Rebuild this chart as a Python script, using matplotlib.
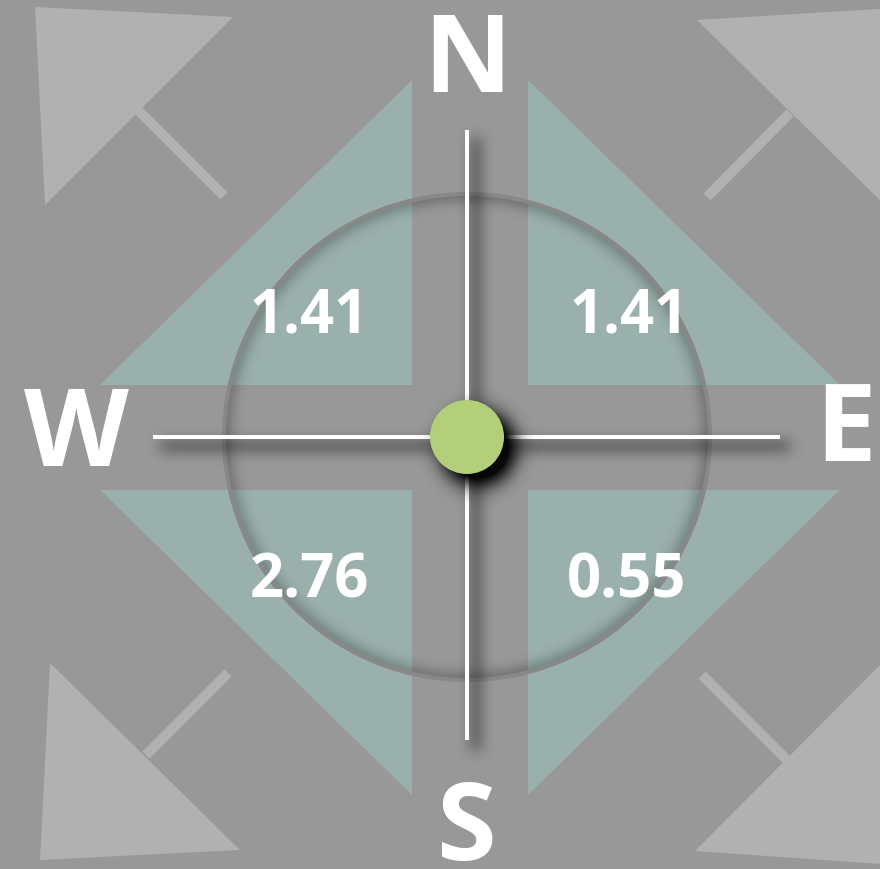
import numpy as np
import matplotlib
matplotlib.use("Agg")
import matplotlib.pyplot as plt
from matplotlib.patches import Polygon, Circle

# data
quadrants = ["NW", "NE", "SW", "SE"]
quadrant_values = [1.41, 1.41, 2.76, 0.55]
directions = ["N", "E", "S", "W"]

W, H = 880, 869
cx, cy = 467, 437
bg = "#989898"
arrow_col = "#b0b1b0"
teal = "#9ab0ac"
green = "#b3cf7a"

fig = plt.figure(figsize=(W / 100, H / 100), dpi=100, facecolor=bg)
ax = fig.add_axes([0, 0, 1, 1])
ax.set_xlim(0, W)
ax.set_ylim(H, 0)
ax.set_facecolor(bg)
ax.axis("off")


def px(v):
    # pixels to points
    return v * 72 / 100


def blur(a, s):
    r = int(3 * s)
    k = np.exp(-np.arange(-r, r + 1) ** 2 / (2 * s * s))
    k /= k.sum()
    a = np.apply_along_axis(lambda v: np.convolve(v, k, mode="same"), 1, a)
    a = np.apply_along_axis(lambda v: np.convolve(v, k, mode="same"), 0, a)
    return a


def shadow(alpha, z):
    img = np.zeros((H, W, 4))
    img[..., 3] = np.clip(alpha, 0, 1)
    ax.imshow(img, extent=(0, W, H, 0), zorder=z, interpolation="bilinear")


yy, xx = np.mgrid[0:H, 0:W] + 0.5

# corner arrows
arrows = [
    ([(35, 7), (233, 17), (45, 205)], (138, 110), (224, 196)),
    ([(697, 20), (895, 8), (895, 215)], (790, 113), (707, 197)),
    ([(50, 663), (40, 860), (240, 850)], (146, 755), (228, 673)),
    ([(695, 851), (895, 650), (895, 865)], (790, 763), (702, 675)),
]
for tri, p0, p1 in arrows:
    ax.add_patch(Polygon(tri, closed=True, fc=arrow_col, ec="none", zorder=1))
    ax.plot([p0[0], p1[0]], [p0[1], p1[1]], color=arrow_col, lw=px(10),
            solid_capstyle="butt", zorder=1)

# teal quadrant triangles
for sx in (-1, 1):
    for sy in (-1, 1):
        x0 = cx + (61 if sx > 0 else -55)
        y0 = cy + (53 if sy > 0 else -52)
        tri = [(x0, y0), (x0, y0 + sy * 305), (x0 + sx * 312, y0)]
        ax.add_patch(Polygon(tri, closed=True, fc=teal, ec="none", zorder=2))

# circle with inner shadow
R = 243
rr = np.hypot(xx - cx, yy - cy)
ring = (np.abs(rr - R) < 3).astype(float)
sh = blur(ring, 7) * (rr < R - 1) * 1.3
shadow(sh * 0.5, 3)
ax.add_patch(Circle((cx, cy), R, fill=False, ec="#888888", lw=px(4), zorder=4))

# cross shadow
hline = (np.abs(yy - (cy + 9)) < 3) & (xx > 160) & (xx < 790)
vline = (np.abs(xx - (cx + 9)) < 3) & (yy > 138) & (yy < 750)
cs = blur((hline | vline).astype(float), 7) * 1.8
shadow(np.clip(cs, 0, 1) * 0.45, 5)

ax.plot([153, 780], [cy, cy], color="white", lw=px(4), solid_capstyle="butt", zorder=6)
ax.plot([cx, cx], [130, 740], color="white", lw=px(4), solid_capstyle="butt", zorder=6)

# dot with shadow
dr = 37
disk = (np.hypot(xx - cx - 11, yy - cy - 11) < dr).astype(float)
ds = blur(disk, 10) * 1.4
shadow(np.clip(ds, 0, 1) * 0.95, 7)
ax.add_patch(Circle((cx, cy), dr, fc=green, ec="none", zorder=8))

# direction labels
font = "Open Sans"
dir_pos = {"N": (cx, 64), "E": (846, 433), "S": (467, 832), "W": (76, 438)}
for d in directions:
    x, y = dir_pos[d]
    ax.text(x, y, d, color="white", fontsize=78, fontweight="bold", family=font,
            ha="center", va="center", zorder=9)

# quadrant values
val_pos = {"NW": (309, 317), "NE": (629, 317), "SW": (309, 582), "SE": (627, 582)}
for q, v in zip(quadrants, quadrant_values):
    x, y = val_pos[q]
    ax.text(x, y, f"{v:.2f}", color="white", fontsize=43, fontweight="bold",
            family=font, ha="center", va="center", zorder=9)

fig.savefig("out.png", dpi=100, facecolor=bg)
